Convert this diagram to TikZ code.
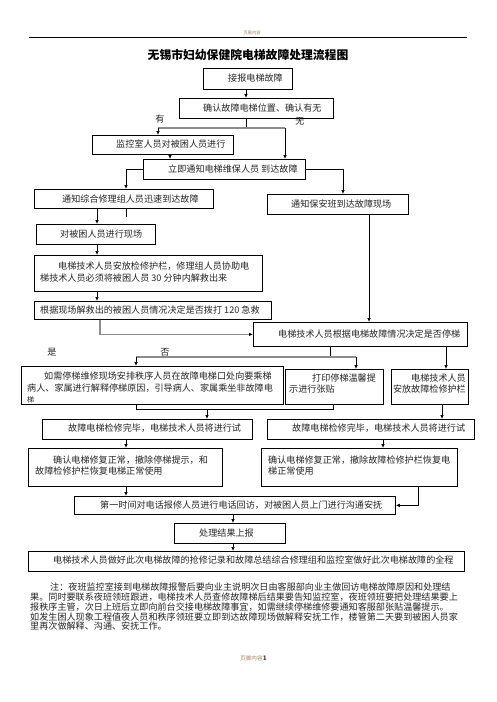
\documentclass[tikz,border=0pt]{standalone}
\usepackage{fontspec}
\newfontfamily\cjk{Noto Sans CJK SC}
\usetikzlibrary{arrows.meta}
\definecolor{hdr}{RGB}{170,130,95}
\tikzset{
  box/.style={draw, line width=0.8pt, inner sep=0pt, anchor=north west},
  txt/.style={inner sep=0pt, anchor=west, text=black!85, font=\cjk\fontsize{9.1}{11}\selectfont},
  conn/.style={line width=0.8pt},
  arr/.style={conn, -{Latex[length=4pt,width=3.6pt]}},
  gconn/.style={line width=1.2pt, draw=black!45},
  garr/.style={gconn, -{Latex[length=4pt,width=3.6pt,color=black]}}
}
\newcommand\bx[5]{\node[box, minimum width={(#4-#2)*1pt}, minimum height={(#5-#3)*1pt}] (#1) at (#2,#3) {};}
\newcommand\tx[4]{\node[txt] (#1) at (#2,#3) {#4};}
\begin{document}
\begin{tikzpicture}[x=1pt,y=-1pt]
\fill[white] (0,0) rectangle (496,702);
\useasboundingbox (0,0) rectangle (496,702);
% header
\node[inner sep=0pt, text=hdr, font=\cjk\fontsize{4.3}{5}\selectfont] (hd) at (252,32.5) {页眉内容};
\coordinate (hl) at (29,37); \coordinate (hr) at (467,37);
\draw[line width=0.7pt] (hl) -- (hr);
\node[inner sep=0pt, font=\cjk\bfseries\fontsize{11.8}{14}\selectfont] (title) at (248,55) {无锡市妇幼保健院电梯故障处理流程图};
% boxes
\bx{b1}{203}{68}{292}{89}
\bx{b2}{179}{98}{333}{118}
\bx{b3}{92}{135}{233}{154}
\bx{b4}{143}{159}{305}{179}
\bx{b5}{34}{189}{213}{208}
\bx{b6}{267}{194}{408}{214}
\bx{b7}{36}{224}{155}{244}
\bx{b8}{34}{255}{262}{291}
\bx{b9}{34}{301}{271}{319}
\bx{b10}{253}{322}{467}{346}
\bx{b11}{21}{366}{283}{404}
\bx{b12}{285}{369}{383}{404}
\bx{b13}{391}{369}{468}{404}
\bx{b14}{42}{419}{252}{439}
\bx{b15}{267}{419}{474}{439}
\bx{b16}{28}{448}{222}{486}
\bx{b17}{261}{448}{457}{486}
\bx{b18}{74}{496}{395}{514}
\bx{b19}{174}{523}{285}{543}
\bx{b20}{28}{551}{464}{571}
% texts
\tx{t1}{228}{78.5}{接报电梯故障}
\tx{t2}{203}{108}{确认故障电梯位置、确认有无}
\node[txt, anchor=center] (you) at (160,119) {有};
\node[txt, anchor=center] (wu) at (300,121) {无};
\tx{t3}{116}{144.5}{监控室人员对被困人员进行}
\tx{t4}{168}{169}{立即通知电梯维保人员 到达故障}
\tx{t5}{62}{199}{通知综合修理组人员迅速到达故障}
\tx{t6}{291}{204}{通知保安班到达故障现场}
\tx{t7}{60}{234}{对被困人员进行现场}
\tx{t8a}{58}{266}{电梯技术人员安放检修护栏，修理组人员协助电}
\tx{t8b}{40}{278}{梯技术人员必须将被困人员 30 分钟内解救出来}
\tx{t9}{40}{310}{根据现场解救出的被困人员情况决定是否拨打 120 急救}
\tx{t10}{278}{334}{电梯技术人员根据电梯故障情况决定是否停梯}
\node[txt, anchor=center] (shi) at (52,352) {是};
\node[txt, anchor=center] (fou) at (165,352) {否};
\tx{t11a}{44}{376.5}{如需停梯维修现场安排秩序人员在故障电梯口处向要乘梯}
\tx{t11b}{27}{388.5}{病人、家属进行解释停梯原因，引导病人、家属乘坐非故障电}
\node[txt, font=\cjk\fontsize{7}{8}\selectfont] (t11c) at (27,399.5) {梯};
\tx{t12a}{312}{378}{打印停梯温馨提}
\tx{t12b}{289}{389.5}{示进行张贴}
\node[txt, anchor=east] (t13a) at (466,378) {电梯技术人员};
\node[txt, anchor=east] (t13b) at (466,389.5) {安放故障检修护栏};
\tx{t14}{68}{428.5}{故障电梯检修完毕，电梯技术人员将进行试}
\tx{t15}{292}{428.5}{故障电梯检修完毕，电梯技术人员将进行试}
\tx{t16a}{53}{460}{确认电梯修复正常，撤除停梯提示，和}
\tx{t16b}{35}{471}{故障检修护栏恢复电梯正常使用}
\tx{t17a}{268}{460}{确认电梯修复正常，撤除故障检修护栏恢复电}
\tx{t17b}{268}{471}{梯正常使用}
\tx{t18}{100}{505}{第一时间对电话报修人员进行电话回访，对被困人员上门进行沟通安抚}
\tx{t19}{199}{533}{处理结果上报}
\tx{t20}{53}{560.5}{电梯技术人员做好此次电梯故障的抢修记录和故障总结综合修理组和监控室做好此次电梯故障的全程}
% notes
\tx{n1}{50}{587.5}{注：夜班监控室接到电梯故障报警后要向业主说明次日由客服部向业主做回访电梯故障原因和处理结}
\tx{n2}{30}{597.3}{果。同时要联系夜班领班跟进，电梯技术人员查修故障梯后结果要告知监控室，夜班领班要把处理结果要上}
\tx{n3}{30}{607}{报秩序主管，次日上班后立即向前台交接电梯故障事宜，如需继续停梯维修要通知客服部张贴温馨提示。}
\tx{n4}{30}{616.8}{如发生困人现象工程值夜人员和秩序领班要立即到达故障现场做解释安抚工作，楼管第二天要到被困人员家}
\tx{n5}{30}{626.5}{里再次做解释、沟通、安抚工作。}
% footer
\node[inner sep=0pt, anchor=west] (ft) at (240,658.5) {{\cjk\fontsize{5.6}{6}\selectfont\color{hdr}页脚内容}{\fontsize{7}{8}\selectfont\bfseries 1}};
% connector coordinates
\coordinate (v246) at (246,0);
\coordinate (v170) at (170,0);
\coordinate (v126) at (126,0);
\coordinate (v343) at (343,0);
\coordinate (v97) at (97,0);
\coordinate (v100) at (100,0);
\coordinate (v369) at (369,0);
\coordinate (v446) at (446,0);
\coordinate (v442) at (442,0);
\coordinate (v383) at (383,0);
\coordinate (v418) at (418,0);
\coordinate (v233) at (233,0);
\coordinate (jm) at (246,128); \coordinate (jl) at (158,128); \coordinate (jr) at (285,128);
\coordinate (stub) at (126,217);
\coordinate (km) at (330,357); \coordinate (kl) at (136,357); \coordinate (kr) at (356,357);
\coordinate (ml) at (136,409); \coordinate (mr) at (333,409); \coordinate (mm) at (207,409);
% connectors
\draw[arr] (b1.south -| v246) -- (b2.north -| v246);
\draw[conn] (b2.south -| jm) -- (jm);
\draw[gconn] (jl) -- (jr);
\draw[arr] (jl) -- (b3.north -| jl);
\draw[arr] (jr) -- (b4.north -| jr);
\draw[arr] (b3.south -| v170) -- (b4.north -| v170);
\draw[arr] (b4.west) -| (b5.north -| v126);
\draw[arr] (b4.east) -| (b6.north -| v343);
\draw[arr] (b5.south -| v97) -- (b7.north -| v97);
\draw[conn] (b5.south -| stub) -- (stub);
\draw[arr] (b7.south -| v97) -- (b8.north -| v97);
\draw[arr] (b8.south -| v97) -- (b9.north -| v97);
\draw[garr] (b9.south -| v100) |- (b10.west);
\draw[arr] (b6.south -| v369) -- (b10.north -| v369);
\draw[conn] (b10.south -| km) -- (km);
\draw[gconn] (kl) -- (kr);
\draw[arr] (kl) -- (b11.north -| kl);
\draw[arr] (kr) -- (b12.north -| kr);
\draw[arr] (b10.south -| v446) -- (b13.north -| v446);
\draw[conn] (b11.south -| ml) -- (ml) -- (mr) -- (b12.south -| mr);
\draw[arr] (mm) -- (b14.north -| mm);
\draw[arr] (b13.south -| v442) -- (b15.north -| v442);
\draw[arr] (b14.south -| v126) -- (b16.north -| v126);
\draw[arr] (b15.south -| v383) -- (b17.north -| v383);
\draw[arr] (b16.south -| v126) -- (b18.north -| v126);
\draw[arr] (b17.south -| v418) |- (b18.east);
\draw[arr] (b18.south -| v233) -- (b19.north -| v233);
\draw[arr] (b19.south -| v233) -- (b20.north -| v233);
\end{tikzpicture}
\end{document}
